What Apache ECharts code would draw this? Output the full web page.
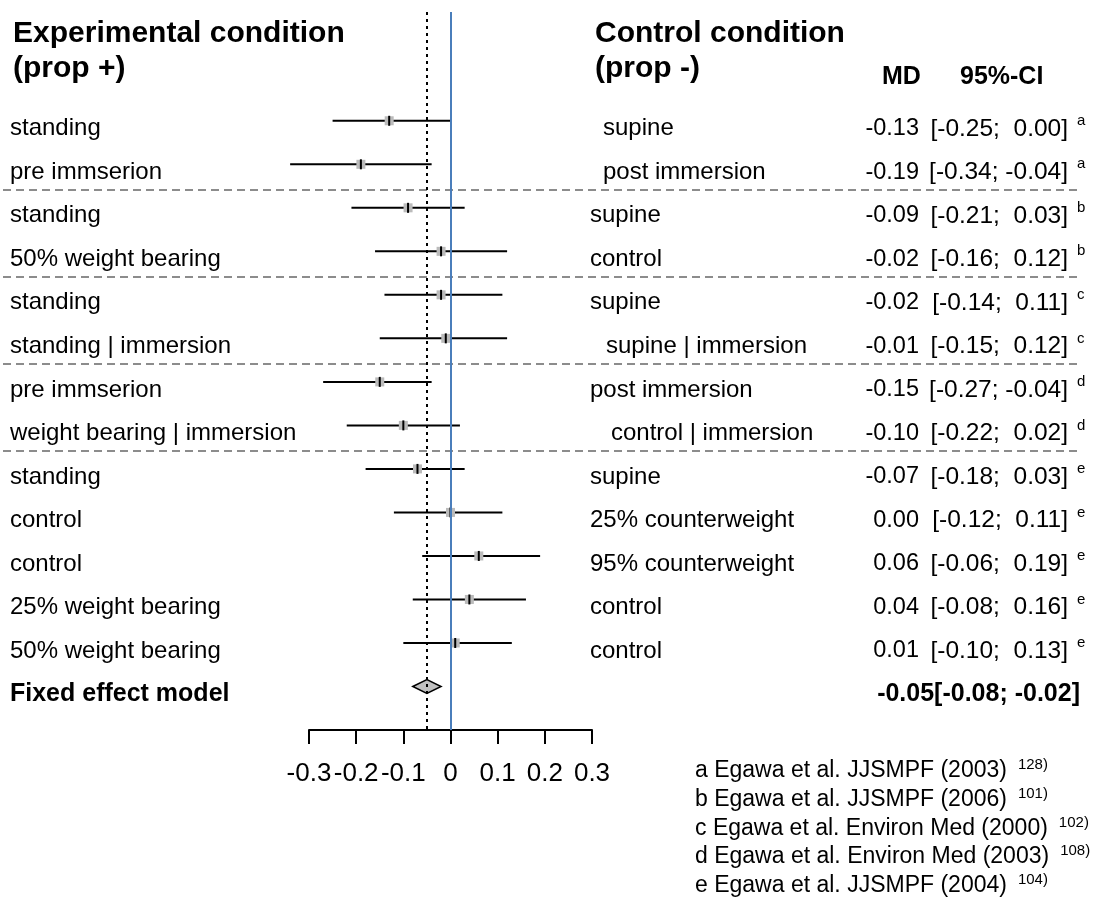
<!DOCTYPE html>
<html>
<head>
<meta charset="utf-8">
<title>Forest plot – prop + vs prop -</title>
<script src="https://cdn.jsdelivr.net/npm/echarts@6/dist/echarts.min.js"></script>
<style>
  html, body { margin: 0; padding: 0; background: #fff; }
  #chart { width: 1119px; height: 900px; }
</style>
</head>
<body>
<div id="chart"></div>
<script>
// ---- data ----
const experimental = ['standing', 'pre immserion', 'standing', '50% weight bearing', 'standing',
  'standing | immersion', 'pre immserion', 'weight bearing | immersion', 'standing', 'control',
  'control', '25% weight bearing', '50% weight bearing'];
const controlCond = ['supine', 'post immersion', 'supine', 'control', 'supine',
  'supine | immersion', 'post immersion', 'control | immersion', 'supine', '25% counterweight',
  '95% counterweight', 'control', 'control'];
const md    = [-0.13, -0.19, -0.09, -0.02, -0.02, -0.01, -0.15, -0.10, -0.07, 0.00, 0.06, 0.04, 0.01];
const lower = [-0.25, -0.34, -0.21, -0.16, -0.14, -0.15, -0.27, -0.22, -0.18, -0.12, -0.06, -0.08, -0.10];
const upper = [ 0.00, -0.04,  0.03,  0.12,  0.11,  0.12, -0.04,  0.02,  0.03,  0.11,  0.19,  0.16,  0.13];
const study = ['a', 'a', 'b', 'b', 'c', 'c', 'd', 'd', 'e', 'e', 'e', 'e', 'e'];
const pooledLabel = 'Fixed effect model';
const pooledMd = -0.05;
const pooledLower = -0.08;
const pooledUpper = -0.02;
const xMin = -0.3, xMax = 0.3, xStep = 0.1;
const references = [
  ['a Egawa et al. JJSMPF (2003)', '128)'],
  ['b Egawa et al. JJSMPF (2006)', '101)'],
  ['c Egawa et al. Environ Med (2000)', '102)'],
  ['d Egawa et al. Environ Med (2003)', '108)'],
  ['e Egawa et al. JJSMPF (2004)', '104)']
];

// ---- layout ----
const FONT = "'Liberation Sans', Arial, Helvetica, sans-serif";
const controlX = [603, 603, 590, 590, 590, 606, 590, 611, 590, 590, 590, 590, 590];
const TEXT_DY = 8;   // text rows sit slightly below their CI lines

const fmt = v => (v < 0 ? '-' : '') + Math.abs(v).toFixed(2);
const fmtCI = (l, u) => '[' + (l < 0 ? fmt(l) : ' ' + fmt(l)) + '; ' + (u < 0 ? fmt(u) : ' ' + fmt(u)) + ']';

const rowCount = md.length;
const studyData = md.map((m, i) => [m, lower[i], upper[i], i]);
const pooledRow = rowCount;

// boundaries between study groups
const boundaries = [];
for (let i = 0; i < rowCount - 1; i++) {
  if (study[i] !== study[i + 1]) boundaries.push([i + 0.5]);
}

function txt(x, y, text, opts) {
  return {
    type: 'text', x: x, y: y, silent: true,
    style: Object.assign({
      text: text, fill: '#000', fontFamily: FONT, fontSize: 24,
      align: 'left', verticalAlign: 'middle'
    }, opts || {})
  };
}

function renderStudy(params, api) {
  const i = api.value(3);
  const pM = api.coord([api.value(0), i]);
  const pL = api.coord([api.value(1), i]);
  const pU = api.coord([api.value(2), i]);
  const y = pM[1];
  const ty = y + TEXT_DY;
  return {
    type: 'group',
    children: [
      { type: 'line', shape: { x1: pL[0], y1: y, x2: pU[0], y2: y }, style: { stroke: '#000', lineWidth: 2 } },
      { type: 'rect', shape: { x: pM[0] - 4.5, y: y - 4.5, width: 9, height: 9 }, style: { fill: '#bbbbbb' } },
      { type: 'line', shape: { x1: pM[0], y1: y - 5, x2: pM[0], y2: y + 5 }, style: { stroke: '#000', lineWidth: 2 } },
      txt(10, ty, experimental[i]),
      txt(controlX[i], ty, controlCond[i]),
      txt(919, ty, fmt(api.value(0)), { align: 'right', fontSize: 23.5 }),
      txt(1068, ty, fmtCI(api.value(1), api.value(2)), { align: 'right', fontSize: 24.5 }),
      txt(1077, ty - 8, study[i], { fontSize: 15 })
    ]
  };
}

function renderPooled(params, api) {
  const r = api.value(3);
  const pM = api.coord([api.value(0), r]);
  const pL = api.coord([api.value(1), r]);
  const pU = api.coord([api.value(2), r]);
  const y = pM[1];
  const ty = y + TEXT_DY;
  return {
    type: 'group',
    children: [
      {
        type: 'polygon',
        shape: { points: [[pL[0], y], [pM[0], y - 7], [pU[0], y], [pM[0], y + 7]] },
        style: { fill: '#c0c0c0', stroke: '#000', lineWidth: 1.5 }
      },
      txt(10, ty, pooledLabel, { fontWeight: 'bold', fontSize: 25 }),
      txt(1080, ty, fmt(api.value(0)) + '[' + fmt(api.value(1)) + '; ' + fmt(api.value(2)) + ']',
        { align: 'right', fontWeight: 'bold', fontSize: 25 })
    ]
  };
}

function renderSeparator(params, api) {
  const p = api.coord([0, api.value(0)]);
  const y = Math.round(p[1]) + 4;
  return {
    type: 'line',
    shape: { x1: 3, y1: y, x2: 1080, y2: y },
    style: { stroke: '#8c8c8c', lineWidth: 2, lineDash: [8, 5] }
  };
}

const graphics = [
  txt(13, 34, 'Experimental condition', { fontWeight: 'bold', fontSize: 30 }),
  txt(13, 69, '(prop +)', { fontWeight: 'bold', fontSize: 30 }),
  txt(595, 34, 'Control condition', { fontWeight: 'bold', fontSize: 30 }),
  txt(595, 69, '(prop -)', { fontWeight: 'bold', fontSize: 30 }),
  txt(882, 77, 'MD', { fontWeight: 'bold', fontSize: 25 }),
  txt(960, 77, '95%-CI', { fontWeight: 'bold', fontSize: 25 })
];
references.forEach((ref, k) => {
  graphics.push({
    type: 'text', x: 695, y: 770 + k * 28.7, silent: true,
    style: {
      text: '{m|' + ref[0] + '}{s|' + ref[1] + '}',
      fontFamily: FONT, fill: '#000', verticalAlign: 'middle', align: 'left',
      rich: {
        m: { fontSize: 23, fontFamily: FONT, fill: '#000', verticalAlign: 'bottom', lineHeight: 25 },
        s: { fontSize: 15, fontFamily: FONT, fill: '#000', verticalAlign: 'top', padding: [0, 0, 0, 11], lineHeight: 15 }
      }
    }
  });
});

const chart = echarts.init(document.getElementById('chart'), null, { renderer: 'canvas' });
chart.setOption({
  animation: false,
  backgroundColor: '#fff',
  grid: { left: 309, right: 527, top: 12, bottom: 170, containLabel: false },
  xAxis: {
    type: 'value', min: xMin, max: xMax, interval: xStep,
    axisLine: { show: true, onZero: false, lineStyle: { color: '#000', width: 2 } },
    axisTick: { show: true, inside: false, length: 14, lineStyle: { color: '#000', width: 2 } },
    axisLabel: {
      color: '#000', fontSize: 26, fontFamily: FONT, margin: 31,
      formatter: v => (Math.abs(v) < 1e-9 ? '0' : String(Math.round(v * 10) / 10))
    },
    splitLine: { show: false }
  },
  yAxis: { type: 'value', inverse: true, min: -2.5, max: 14, show: false },
  graphic: graphics,
  series: [
    {
      type: 'custom', name: 'separators', data: boundaries, renderItem: renderSeparator,
      encode: { y: 0 }, clip: false, silent: true, z: 1
    },
    {
      type: 'custom', name: 'studies', data: studyData, renderItem: renderStudy,
      encode: { x: [0, 1, 2], y: 3 }, clip: false, silent: true, z: 3,
      markLine: {
        silent: true, symbol: 'none', label: { show: false },
        data: [
          { xAxis: 0, lineStyle: { color: '#4a7ebb', width: 2, type: 'solid' } },
          { xAxis: pooledMd, lineStyle: { color: '#000', width: 2, type: [3, 4] } }
        ]
      }
    },
    {
      type: 'custom', name: 'pooled', data: [[pooledMd, pooledLower, pooledUpper, pooledRow]],
      renderItem: renderPooled, encode: { x: [0, 1, 2], y: 3 }, clip: false, silent: true, z: 4
    }
  ]
});
</script>
</body>
</html>
